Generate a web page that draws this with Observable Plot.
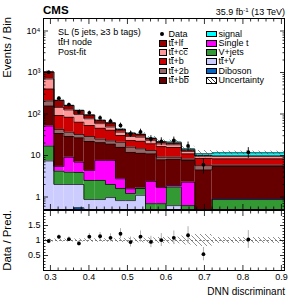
<!DOCTYPE html>
<html><head><meta charset="utf-8">
<script src="https://cdn.jsdelivr.net/npm/d3@7"></script>
<script src="https://cdn.jsdelivr.net/npm/@observablehq/plot@0.6"></script>
<style>
body{margin:0;background:#fff;}
#wrap{position:relative;width:291px;height:300px;font-family:"Liberation Sans",Arial,Helvetica,sans-serif;color:#000;overflow:hidden;background:#fff;}
#wrap svg{position:absolute;left:0;}
.t{position:absolute;white-space:nowrap;line-height:1;}
.ob{display:inline-block;line-height:0.8;border-top:0.6px solid currentColor;}
.sw{position:absolute;box-sizing:border-box;border:0.8px solid #000;}
</style></head><body><div id="wrap"></div>
<script>
// ---------------- data ----------------
const xDomain = [0.282, 0.908];
const binEdges = [0.282, 0.309, 0.335, 0.361, 0.387, 0.415, 0.443, 0.469, 0.495, 0.521, 0.547, 0.575, 0.601, 0.640, 0.675, 0.720, 0.908];
const diboson = [0.1, 0.1, 0.1, 0.55, 0.1, 0.1, 0.1, 0.1, 0.1, 0.1, 0.05, 0.05, 0.05, 0.05, 0.05, 0.05];
const ttV     = [7.3, 1.9, 1.9, 1.45, 0.77, 0.77, 0.87, 0.72, 0.72, 1.0, 0.25, 0.25, 0.57, 0.25, 0.05, 0.05];
const vjets   = [9.5, 2.2, 1.96, 1.9, 1.63, 1.63, 1.03, 0.78, 0.4, 0.5, 0.39, 0.39, 1.12, 0.32, 0.1, 0.77];
const singleT = [34.5, 1.25, 5.1, 3.0, 1.85, 5.1, 5.6, 1.15, 0.36, 0.05, 1.68, 1.0, 0.15, 1.65, 0.2, 0.05];
const ttbb    = [105, 28.5, 19.6, 19.8, 17.4, 12.8, 11.3, 13.1, 10.4, 9.75, 8.6, 6.2, 6.3, 5.3, 4.1, 4.5];
const tt2b    = [50, 8.5, 7.8, 5.4, 6.9, 4.4, 3.6, 5.0, 3.9, 3.1, 2.2, 1.2, 0.9, 0.6, 1.2, 0.4];
const ttb     = [194, 49.6, 47.2, 31.4, 24.1, 20.6, 18.2, 9.4, 7.1, 7.6, 6.0, 7.3, 6.5, 2.8, 2.8, 2.5];
const ttcc    = [297, 51.5, 41.3, 33.8, 23.9, 13.1, 7.8, 6.2, 5.7, 5.5, 4.0, 2.6, 2.5, 1.5, 1.1, 1.3];
const ttlf    = [331, 68.5, 35, 24.2, 17.3, 11.5, 12, 6, 5.5, 4.5, 2.5, 2.1, 1.8, 1.2, 0.4, 0.1];
const signal  = [5, 2, 2, 1.5, 1, 1, 1, 0.8, 0.6, 0.6, 0.6, 0.6, 1.2, 0.8, 1.0, 1.9];
const dataCounts = [1017, 240, 169, 111, 107, 81, 67, 53, 33, 37, 25, 22, 23, 17, 6, 12];
const uncRel  = [0.05, 0.05, 0.05, 0.05, 0.06, 0.06, 0.06, 0.07, 0.08, 0.08, 0.09, 0.1, 0.11, 0.15, 0.2, 0.1];

const xMajor = [0.3, 0.4, 0.5, 0.6, 0.7, 0.8, 0.9];
const yMajor = [1, 10, 100, 1000, 10000];
const yMajorLabels = ["1", "10", "10²", "10³", "10⁴"];
const rMajor = [0.5, 1, 1.5];
const rMajorLabels = ["0.5", "1", "1.5"];

const processNames = ["Diboson", "tt+V", "V+jets", "Single t", "tt+bb", "tt+2b", "tt+b", "tt+cc", "tt+lf", "signal"];
const processColors = ["#0066cc", "#ccccff", "#339933", "#ff00ff", "#660000", "#996666", "#cc0000", "#ff9999", "#990000", "#00ffff"];
const processValues = [diboson, ttV, vjets, singleT, ttbb, tt2b, ttb, ttcc, ttlf, signal];

// ---------------- derived ----------------
const nB = dataCounts.length;
const bins = d3.range(nB).map(i => ({i, x1: binEdges[i], x2: binEdges[i + 1], xc: (binEdges[i] + binEdges[i + 1]) / 2}));
const cum = new Array(nB).fill(0);
const stacked = processValues.map((vals, k) => {
  const rows = bins.map(b => {
    const lo = cum[b.i];
    const hi = lo + vals[b.i];
    cum[b.i] = hi;
    return {...b, lo: Math.max(lo, 1e-3), hi};
  });
  return {name: processNames[k], color: processColors[k], rows};
});
const total = cum.slice();
const bandRows = bins.map(b => ({...b, lo: total[b.i] * (1 - uncRel[b.i]), hi: total[b.i] * (1 + uncRel[b.i]), rlo: 1 - uncRel[b.i], rhi: 1 + uncRel[b.i]}));
const dataRows = bins.map(b => {
  const n = dataCounts[b.i], e = Math.sqrt(n), t = total[b.i];
  return {...b, n, lo: n - e, hi: n + e, r: n / t, rlo: (n - e) / t, rhi: (n + e) / t};
});

const xMinor = d3.range(0.28, 0.9101, 0.02).filter(v => v >= xDomain[0] && !xMajor.some(m => Math.abs(m - v) < 1e-6));
const yMinor = [];
[0.1, 1, 10, 100, 1000, 10000].forEach(d => { for (let k = 2; k <= 9; k++) { const v = d * k; if (v >= 0.5 && v <= 20000) yMinor.push(v); } });
const rMinor = d3.range(0.1, 1.95, 0.1).filter(v => !rMajor.some(m => Math.abs(m - v) < 1e-6));

const FONT = '"Liberation Sans", Arial, Helvetica, sans-serif';
const blank = () => "";

function tickAxes(kind, major, minor, bigLen, smallLen, anchors) {
  const f = kind === "x" ? Plot.axisX : Plot.axisY;
  const out = [];
  anchors.forEach(a => {
    out.push(f({anchor: a, ticks: major, tickSize: -bigLen, tickFormat: blank, label: null, strokeWidth: 0.8}));
    out.push(f({anchor: a, ticks: minor, tickSize: -smallLen, tickFormat: blank, label: null, strokeWidth: 0.8}));
  });
  return out;
}

// ---------------- main panel ----------------
const mainMarks = [];
stacked.forEach(s => mainMarks.push(Plot.rect(s.rows, {x1: "x1", x2: "x2", y1: "lo", y2: "hi", fill: s.color, clip: true})));
stacked.forEach(s => {
  const pts = s.rows.flatMap(r => [{x: r.x1, y: Math.max(r.hi, 1e-3)}, {x: r.x2, y: Math.max(r.hi, 1e-3)}]);
  mainMarks.push(Plot.line(pts, {x: "x", y: "y", stroke: "#000", strokeWidth: 0.7, clip: true}));
});
mainMarks.push(Plot.rect(bandRows, {x1: "x1", x2: "x2", y1: "lo", y2: "hi", fill: "url(#hatchM)", clip: true}));
mainMarks.push(Plot.ruleX(dataRows, {x: "xc", y1: "lo", y2: "hi", stroke: "#000", strokeWidth: 0.9, clip: true}));
mainMarks.push(Plot.dot(dataRows, {x: "xc", y: "n", r: 1.9, fill: "#000", stroke: "none"}));
mainMarks.push(Plot.frame({stroke: "#000", strokeWidth: 1}));
mainMarks.push(...tickAxes("x", xMajor, xMinor, 5, 2.5, ["bottom", "top"]));
mainMarks.push(...tickAxes("y", yMajor, yMinor, 5, 2.5, ["left", "right"]));
mainMarks.push(Plot.axisY({anchor: "left", ticks: yMajor, tickSize: 0, tickPadding: 3, tickFormat: d => yMajorLabels[yMajor.indexOf(d)], label: null, fontSize: 9}));

const mainSvg = Plot.plot({
  width: 291, height: 210,
  marginLeft: 43, marginRight: 7, marginTop: 18, marginBottom: 1,
  style: {fontFamily: FONT, fontSize: "9px", background: "none", overflow: "visible", color: "#000"},
  x: {domain: xDomain},
  y: {type: "log", domain: [0.5, 20000]},
  marks: mainMarks
});
mainSvg.style.top = "0px";

// ---------------- ratio panel ----------------
const ratioMarks = [
  Plot.rect(bandRows, {x1: "x1", x2: "x2", y1: "rlo", y2: "rhi", fill: "url(#hatchR)", clip: true}),
  Plot.ruleY([1], {stroke: "#555", strokeWidth: 0.7, strokeDasharray: "2,2"}),
  Plot.ruleX(dataRows, {x: "xc", y1: "rlo", y2: "rhi", stroke: "#b0b0b0", strokeWidth: 1, clip: true}),
  Plot.dot(dataRows, {x: "xc", y: "r", r: 1.9, fill: "#000", stroke: "none", clip: true}),
  Plot.frame({stroke: "#000", strokeWidth: 1}),
  ...tickAxes("x", xMajor, xMinor, 5, 2.5, ["bottom", "top"]),
  ...tickAxes("y", rMajor, rMinor, 5, 2.5, ["left", "right"]),
  Plot.axisY({anchor: "left", ticks: rMajor, tickSize: 0, tickPadding: 3, tickFormat: d => rMajorLabels[rMajor.indexOf(d)], label: null, fontSize: 9}),
  Plot.axisX({anchor: "bottom", ticks: xMajor, tickSize: 0, tickPadding: 3, tickFormat: d => d.toFixed(1), label: null, fontSize: 9})
];
const ratioSvg = Plot.plot({
  width: 291, height: 91,
  marginLeft: 43, marginRight: 7, marginTop: 1, marginBottom: 30,
  style: {fontFamily: FONT, fontSize: "9px", background: "none", overflow: "visible", color: "#000"},
  x: {domain: xDomain},
  y: {domain: [0, 2]},
  marks: ratioMarks
});
ratioSvg.style.top = "209px";

function addHatch(svg, id, size) {
  const ns = "http://www.w3.org/2000/svg";
  const defs = document.createElementNS(ns, "defs");
  defs.innerHTML = `<pattern id="${id}" patternUnits="userSpaceOnUse" width="${size}" height="${size}"><path d="M-1,-1L${size + 1},${size + 1}" stroke="#444" stroke-width="0.6"/></pattern>`;
  svg.insertBefore(defs, svg.firstChild);
}
addHatch(mainSvg, "hatchM", 6);
addHatch(ratioSvg, "hatchR", 5);

const wrap = document.getElementById("wrap");
wrap.appendChild(mainSvg);
wrap.appendChild(ratioSvg);

// ---------------- texts ----------------
function txt(html, css) {
  const d = document.createElement("div");
  d.className = "t";
  d.innerHTML = html;
  Object.assign(d.style, css);
  wrap.appendChild(d);
  return d;
}
const tt = 't<span class="ob">t</span>';
txt("CMS", {left: "43px", top: "4.6px", fontSize: "11.5px", fontWeight: "bold"});
txt('35.9 fb<sup style="font-size:6px;vertical-align:3px">-1</sup> (13 TeV)', {right: "6px", top: "6.7px", fontSize: "9px"});
txt("SL (5 jets, ≥3 b tags)", {left: "58px", top: "28.4px", fontSize: "9px"});
txt(tt + "H node", {left: "58px", top: "38.4px", fontSize: "9px"});
txt("Post-fit", {left: "58px", top: "48.4px", fontSize: "9px"});
txt("Events / Bin", {left: "0px", top: "0px", width: "100px", textAlign: "right", fontSize: "11.4px", transformOrigin: "0 0", transform: "translate(2px,117px) rotate(-90deg)"});
txt("Data / Pred.", {left: "0px", top: "0px", width: "100px", textAlign: "right", fontSize: "11.4px", transformOrigin: "0 0", transform: "translate(2px,310px) rotate(-90deg)"});
txt("DNN discriminant", {right: "6px", top: "286.5px", fontSize: "10px"});

// ---------------- legend ----------------
const legendCol1 = [["Data", null], [tt + "+lf", "#990000"], [tt + '+c<span class="ob">c</span>', "#ff9999"], [tt + "+b", "#cc0000"], [tt + "+2b", "#996666"], [tt + '+b<span class="ob">b</span>', "#660000"]];
const legendCol2 = [["signal", "#00ffff"], ["Single t", "#ff00ff"], ["V+jets", "#339933"], [tt + "+V", "#ccccff"], ["Diboson", "#0066cc"], ["Uncertainty", "hatch"]];
const rowY = i => 34 + 9.25 * i;
legendCol1.forEach(([lab, col], i) => {
  const c = rowY(i);
  if (col === null) {
    const dot = document.createElement("div");
    Object.assign(dot.style, {position: "absolute", left: (161.8 - 1.9) + "px", top: (c - 1.9) + "px", width: "3.8px", height: "3.8px", borderRadius: "50%", background: "#000"});
    wrap.appendChild(dot);
  } else {
    const sw = document.createElement("div");
    sw.className = "sw";
    Object.assign(sw.style, {left: "159px", top: (c - 3.3) + "px", width: "8px", height: "6.6px", background: col});
    wrap.appendChild(sw);
  }
  txt(lab, {left: "168.5px", top: (c - 4.4) + "px", fontSize: "9px"});
});
legendCol2.forEach(([lab, col], i) => {
  const c = rowY(i);
  const sw = document.createElement("div");
  sw.className = "sw";
  const bg = col === "hatch" ? "repeating-linear-gradient(45deg, #333 0 0.6px, #fff 0.6px 3px)" : col;
  Object.assign(sw.style, {left: "205.5px", top: (c - 3.3) + "px", width: "11.5px", height: "6.6px", background: bg});
  wrap.appendChild(sw);
  txt(lab, {left: "218.5px", top: (c - 4.4) + "px", fontSize: "9px"});
});
</script></body></html>
